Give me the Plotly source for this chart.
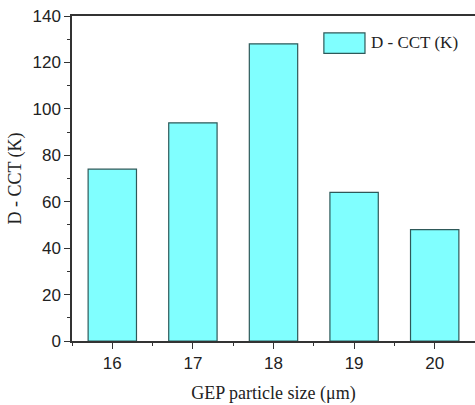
import plotly.graph_objects as go

# GEP particle size (µm) and the corresponding D-CCT values (K)
particle_size = [16, 17, 18, 19, 20]
d_cct = [74, 94, 128, 64, 48]
series_name = "D - CCT (K)"

fill_color = "#80FFFF"
edge_color = "#2E5959"
axis_color = "#333333"

fig = go.Figure()
fig.add_trace(go.Bar(
    x=particle_size,
    y=d_cct,
    name=series_name,
    width=0.6,
    marker=dict(color=fill_color, line=dict(color=edge_color, width=1.2)),
    showlegend=False,
))

tick_font = dict(family="Liberation Sans, Arial", size=17, color="#222222")
title_font = dict(family="Liberation Serif, Times New Roman", size=18, color="#222222")

fig.update_xaxes(
    range=[15.5, 20.5],
    tickvals=particle_size,
    ticks="outside", ticklen=6, tickwidth=1.2, tickcolor=axis_color,
    minor=dict(dtick=0.5, tick0=15.5, ticks="outside", ticklen=3, tickwidth=1.2, tickcolor=axis_color),
    showline=True, linecolor=axis_color, linewidth=1.5, mirror=True,
    showgrid=False, zeroline=False,
    tickfont=tick_font,
    title=dict(text="GEP particle size (μm)", font=title_font, standoff=14),
)
fig.update_yaxes(
    range=[0, 140],
    dtick=20,
    ticks="outside", ticklen=6, tickwidth=1.2, tickcolor=axis_color,
    minor=dict(dtick=10, ticks="outside", ticklen=3, tickwidth=1.2, tickcolor=axis_color),
    showline=True, linecolor=axis_color, linewidth=1.5,
    showgrid=False, zeroline=False,
    tickfont=tick_font,
    title=dict(text="D - CCT (K)", font=title_font, standoff=6),
)

# Legend drawn as a swatch plus label inside the plot area
fig.add_shape(type="rect", xref="paper", yref="paper",
              x0=0.625, x1=0.727, y0=0.885, y1=0.948,
              fillcolor=fill_color, line=dict(color=edge_color, width=1.2))
fig.add_annotation(xref="paper", yref="paper", x=0.737, y=0.918,
                   text=series_name, showarrow=False, xanchor="left", yanchor="middle",
                   font=dict(family="Liberation Serif, Times New Roman", size=17, color="#222222"))

fig.update_layout(
    width=475, height=405,
    margin=dict(l=72, r=0, t=16, b=64),
    plot_bgcolor="white", paper_bgcolor="white",
    bargap=0.4,
)

fig.write_html("out.html")
